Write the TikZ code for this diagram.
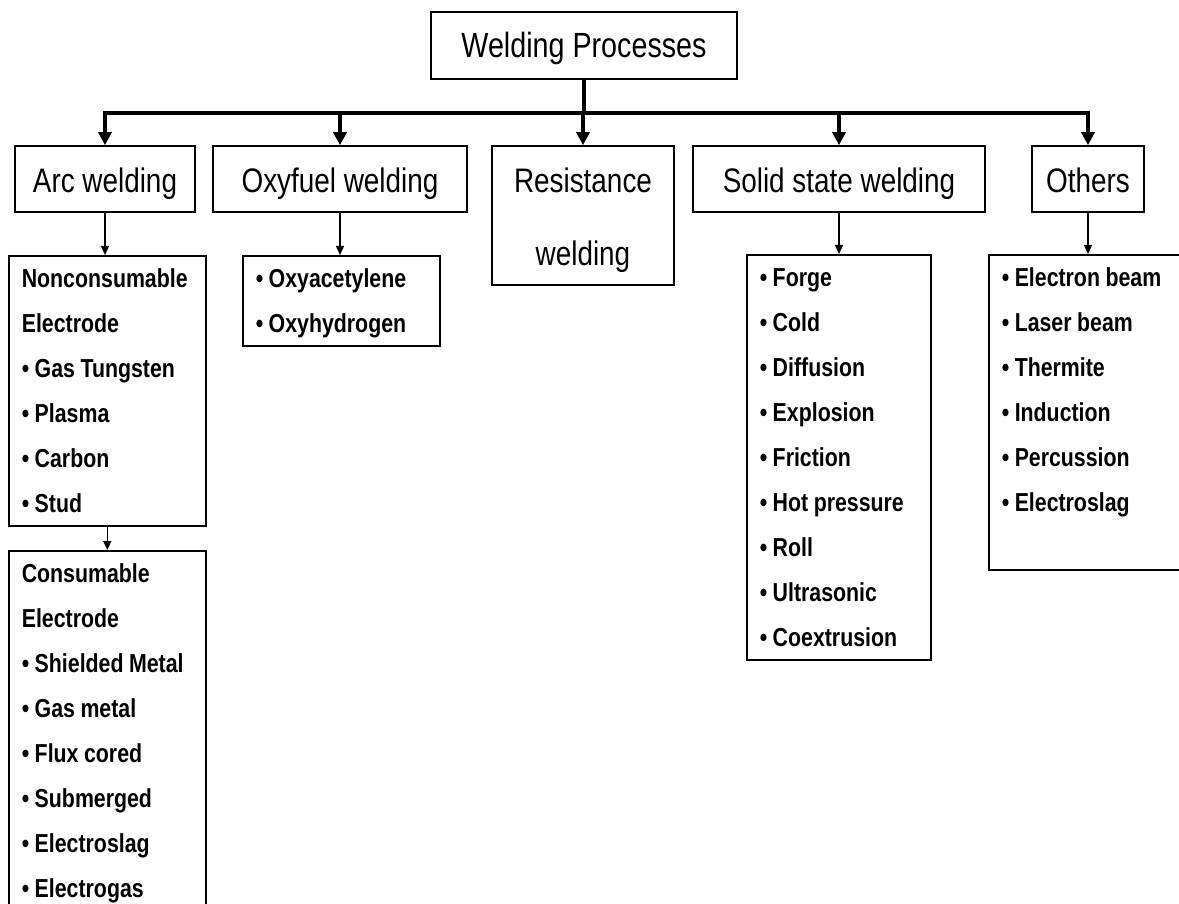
\documentclass[tikz,border=0pt]{standalone}
\usepackage{fontspec}
\setmainfont{Liberation Sans}[FakeStretch=0.82]
\usetikzlibrary{arrows.meta}
\newcommand{\bul}[1]{\strut\mbox{\spaceskip=5.5pt\relax\textbullet~#1}}
\begin{document}
\begin{tikzpicture}[x=1pt,y=-1pt,
    box/.style={draw,line width=1.6pt,inner sep=0pt,font=\fontsize{34}{73}\selectfont,align=center},
    head/.style={box,minimum height=66pt,text height=35pt,text depth=7pt},
    listbox/.style={draw,line width=1.6pt,anchor=north west,align=left,inner xsep=13pt,inner ysep=0pt,
      font=\bfseries\fontsize{26}{45}\selectfont},
    bus/.style={line width=4.5pt},
    busarrow/.style={line width=4pt,-{Triangle[length=13pt,width=13pt]}},
    thinarrow/.style={line width=1.4pt,-{Triangle[length=9pt,width=8pt]}}]
\clip (0,0) rectangle (1179,904);
\node[box,minimum width=306pt,minimum height=67pt,text height=32pt,text depth=7pt,font=\fontsize{35}{42}\selectfont] (top) at (584,45.5) {Welding Processes};
\node[head,minimum width=180pt] (arc) at (105,179) {Arc welding};
\node[head,minimum width=254pt] (oxy) at (340,179) {Oxyfuel welding};
\node[box,minimum width=182pt,minimum height=139pt] (res) at (583,215.5) {\rule{0pt}{34pt}Resistance\\welding};
\node[head,minimum width=292pt] (solid) at (839,179) {Solid state welding};
\node[head,minimum width=112pt] (others) at (1088,179) {Others};
\node[listbox,text width=171pt] (noncons) at (8,255) {\strut Nonconsumable\\\strut Electrode\\\bul{Gas Tungsten}\\\bul{Plasma}\\\bul{Carbon}\\\bul{Stud}};
\node[listbox,text width=171pt] (cons) at (8,550) {\strut Consumable\\\strut Electrode\\\bul{Shielded Metal}\\\bul{Gas metal}\\\bul{Flux cored}\\\bul{Submerged}\\\bul{Electroslag}\\\bul{Electrogas}};
\node[listbox,text width=171pt] (oxylist) at (242,255) {\bul{Oxyacetylene}\\\bul{Oxyhydrogen}};
\node[listbox,text width=158pt] (solidlist) at (746,254) {\bul{Forge}\\\bul{Cold}\\\bul{Diffusion}\\\bul{Explosion}\\\bul{Friction}\\\bul{Hot pressure}\\\bul{Roll}\\\bul{Ultrasonic}\\\bul{Coextrusion}};
\node[listbox,text width=200pt] (otherlist) at (988,254) {\bul{Electron beam}\\\bul{Laser beam}\\\bul{Thermite}\\\bul{Induction}\\\bul{Percussion}\\\bul{Electroslag}\\\strut};
\coordinate (b) at (584,113);
\draw[bus] (top.south) -- (top.south |- b);
\draw[bus] ([xshift=-2pt]arc.north |- b) -- ([xshift=2pt]others.north |- b);
\draw[busarrow] (arc.north |- b) -- (arc.north);
\draw[busarrow] (oxy.north |- b) -- (oxy.north);
\draw[busarrow] (res.north |- b) -- (res.north);
\draw[busarrow] (solid.north |- b) -- (solid.north);
\draw[busarrow] (others.north |- b) -- (others.north);
\draw[thinarrow] (arc.south) -- (arc.south |- noncons.north);
\draw[thinarrow] (noncons.south) -- (cons.north);
\draw[thinarrow] (oxy.south) -- (oxy.south |- oxylist.north);
\draw[thinarrow] (solid.south) -- (solid.south |- solidlist.north);
\draw[thinarrow] (others.south) -- (others.south |- otherlist.north);
\end{tikzpicture}
\end{document}
